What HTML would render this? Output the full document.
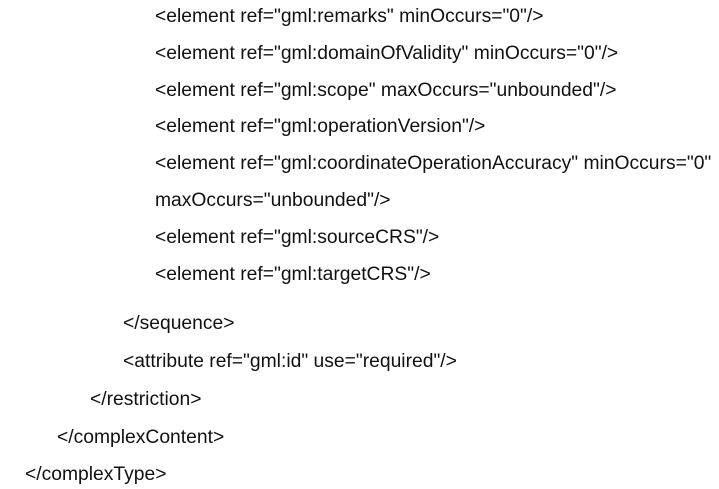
<!DOCTYPE html>
<html><head><style>
body{margin:0;width:719px;height:489px;background:#fff;position:relative;overflow:hidden;font-family:"Liberation Sans",Arial,sans-serif;font-size:19.3px;color:#111}
div{position:absolute;white-space:pre;line-height:20px}
</style></head><body>
<div style="left:155px;top:7px">&lt;element ref="gml:remarks" minOccurs="0"/&gt;</div>
<div style="left:155px;top:44px">&lt;element ref="gml:domainOfValidity" minOccurs="0"/&gt;</div>
<div style="left:155px;top:81px">&lt;element ref="gml:scope" maxOccurs="unbounded"/&gt;</div>
<div style="left:155px;top:117px">&lt;element ref="gml:operationVersion"/&gt;</div>
<div style="left:155px;top:154px">&lt;element ref="gml:coordinateOperationAccuracy" minOccurs="0"</div>
<div style="left:155px;top:191px">maxOccurs="unbounded"/&gt;</div>
<div style="left:155px;top:228px">&lt;element ref="gml:sourceCRS"/&gt;</div>
<div style="left:155px;top:265px">&lt;element ref="gml:targetCRS"/&gt;</div>
<div style="left:123px;top:314px">&lt;/sequence&gt;</div>
<div style="left:123px;top:352px">&lt;attribute ref="gml:id" use="required"/&gt;</div>
<div style="left:90px;top:390px">&lt;/restriction&gt;</div>
<div style="left:57px;top:428px">&lt;/complexContent&gt;</div>
<div style="left:25px;top:465px">&lt;/complexType&gt;</div>
</body></html>
